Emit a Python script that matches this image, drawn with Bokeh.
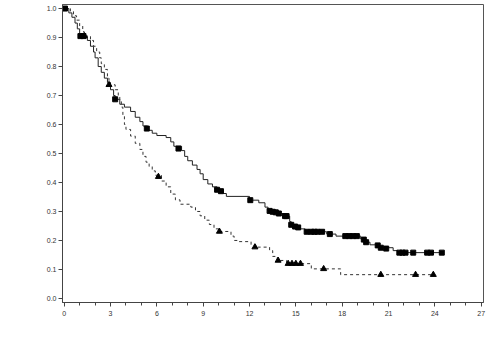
from bokeh.plotting import figure
from bokeh.models import FixedTicker, PrintfTickFormatter, Range1d
from bokeh.embed import file_html
from bokeh.resources import INLINE

# Group 1 (solid line, square censor marks): step times and survival after each step
g1_time = [0, 0.3, 0.5, 0.7, 0.85, 1.0, 1.5, 1.7, 1.9, 2.0, 2.2, 2.4, 2.6, 2.8, 3.0, 3.2, 3.3,
           3.6, 3.9, 4.3, 4.6, 4.9, 5.1, 5.4, 5.7, 6.0, 6.6, 6.9, 7.1, 7.6, 7.8, 8.0, 8.3, 8.6,
           8.8, 9.0, 9.3, 9.6, 9.9, 10.3, 10.5, 12.0, 12.6, 13.0, 13.2, 13.9, 14.3, 14.6, 14.7,
           15.0, 15.3, 15.6, 17.0, 17.6, 19.2, 19.5, 19.8, 20.4, 21.3, 21.6, 24.45]
g1_surv = [1.0, 0.985, 0.97, 0.95, 0.93, 0.905, 0.89, 0.87, 0.85, 0.83, 0.80, 0.78, 0.76, 0.745,
           0.72, 0.70, 0.687, 0.67, 0.66, 0.645, 0.625, 0.61, 0.595, 0.58, 0.57, 0.562, 0.555,
           0.54, 0.525, 0.51, 0.49, 0.475, 0.46, 0.445, 0.43, 0.41, 0.395, 0.385, 0.375, 0.362,
           0.352, 0.339, 0.33, 0.315, 0.302, 0.293, 0.284, 0.265, 0.254, 0.248, 0.24, 0.23,
           0.222, 0.215, 0.205, 0.194, 0.185, 0.175, 0.165, 0.158, 0.158]
g1_cens_time = [0.05, 1.05, 1.25, 3.3, 5.35, 7.4, 9.9, 10.15, 12.05, 13.3, 13.5, 13.7, 13.9, 14.3,
                14.4, 14.7, 14.95, 15.15, 15.7, 16.0, 16.2, 16.4, 16.7, 17.2, 18.2, 18.45, 18.7,
                18.95, 19.4, 19.55, 20.3, 20.5, 20.85, 21.7, 21.9, 22.1, 22.6, 23.5, 23.75, 24.45]
g1_cens_surv = [1.0, 0.905, 0.905, 0.687, 0.586, 0.517, 0.375, 0.37, 0.339, 0.302, 0.299, 0.297,
                0.293, 0.284, 0.284, 0.254, 0.248, 0.245, 0.23, 0.23, 0.23, 0.23, 0.23, 0.222,
                0.215, 0.215, 0.215, 0.215, 0.203, 0.194, 0.183, 0.175, 0.172, 0.158, 0.158,
                0.158, 0.158, 0.158, 0.158, 0.158]

# Group 2 (dashed line, triangle censor marks)
g2_time = [0, 0.4, 0.6, 0.8, 1.0, 1.2, 1.3, 1.7, 1.9, 2.1, 2.3, 2.4, 2.6, 2.8, 2.9, 3.3, 3.5,
           3.6, 3.7, 3.8, 3.9, 4.0, 4.3, 4.6, 4.9, 5.1, 5.3, 5.5, 5.7, 5.9, 6.3, 6.6, 6.9, 7.2,
           7.5, 8.2, 8.5, 8.8, 9.1, 9.4, 9.7, 10.0, 10.8, 11.0, 11.3, 12.1, 12.4, 13.3, 13.5,
           13.8, 14.4, 16.0, 17.9, 23.9]
g2_surv = [1.0, 0.99, 0.975, 0.96, 0.94, 0.92, 0.905, 0.89, 0.87, 0.85, 0.83, 0.81, 0.79, 0.76,
           0.737, 0.72, 0.70, 0.68, 0.66, 0.63, 0.60, 0.583, 0.56, 0.535, 0.514, 0.49, 0.47,
           0.455, 0.44, 0.425, 0.405, 0.385, 0.36, 0.34, 0.325, 0.315, 0.30, 0.285, 0.27,
           0.255, 0.24, 0.231, 0.215, 0.20, 0.196, 0.185, 0.177, 0.165, 0.145, 0.131, 0.12,
           0.102, 0.082, 0.082]
g2_cens_time = [1.3, 2.9, 6.1, 10.05, 12.35, 13.85, 14.5, 14.75, 15.0, 15.3, 16.8, 20.5, 22.75, 23.9]
g2_cens_surv = [0.905, 0.737, 0.42, 0.231, 0.177, 0.131, 0.12, 0.12, 0.12, 0.12, 0.102, 0.082,
                0.082, 0.082]

x_ticks = list(range(0, 28, 3))
x_minor = list(range(0, 28, 1))
y_ticks = [0.0, 0.1, 0.2, 0.3, 0.4, 0.5, 0.6, 0.7, 0.8, 0.9, 1.0]

p = figure(width=490, height=350, output_backend="svg", toolbar_location=None,
           x_range=Range1d(-0.11, 27.15), y_range=Range1d(-0.014, 1.014),
           min_border_left=62, min_border_right=7, min_border_top=4, min_border_bottom=48)

p.step(g1_time, g1_surv, mode="after", line_color="#222222", line_width=1)
p.step(g2_time, g2_surv, mode="after", line_color="#333333", line_width=1, line_dash="3 3")
p.scatter(g1_cens_time, g1_cens_surv, marker="square", size=5, fill_color="black", line_color="black")
p.scatter(g2_cens_time, g2_cens_surv, marker="triangle", size=6, fill_color="black", line_color="black")

p.xgrid.visible = False
p.ygrid.visible = False
p.outline_line_color = "#555555"
p.outline_line_width = 1
p.background_fill_color = "white"
p.border_fill_color = "white"

p.xaxis.ticker = FixedTicker(ticks=x_ticks, minor_ticks=x_minor)
p.yaxis.ticker = FixedTicker(ticks=y_ticks)
p.yaxis.formatter = PrintfTickFormatter(format="%.1f")

for ax in (p.xaxis[0], p.yaxis[0]):
    ax.axis_line_color = "#444444"
    ax.major_tick_line_color = "#444444"
    ax.major_tick_in = 0
    ax.major_tick_out = 4
    ax.minor_tick_in = 0
    ax.minor_tick_out = 3
    ax.major_label_text_font = "Liberation Sans"
    ax.major_label_text_font_size = "7px"
    ax.major_label_text_color = "#333333"
    ax.major_label_standoff = 4

p.xaxis.minor_tick_line_color = "#444444"
p.yaxis.minor_tick_line_color = None
p.yaxis.major_label_standoff = 2

open("out.html", "w").write(file_html(p, INLINE))
